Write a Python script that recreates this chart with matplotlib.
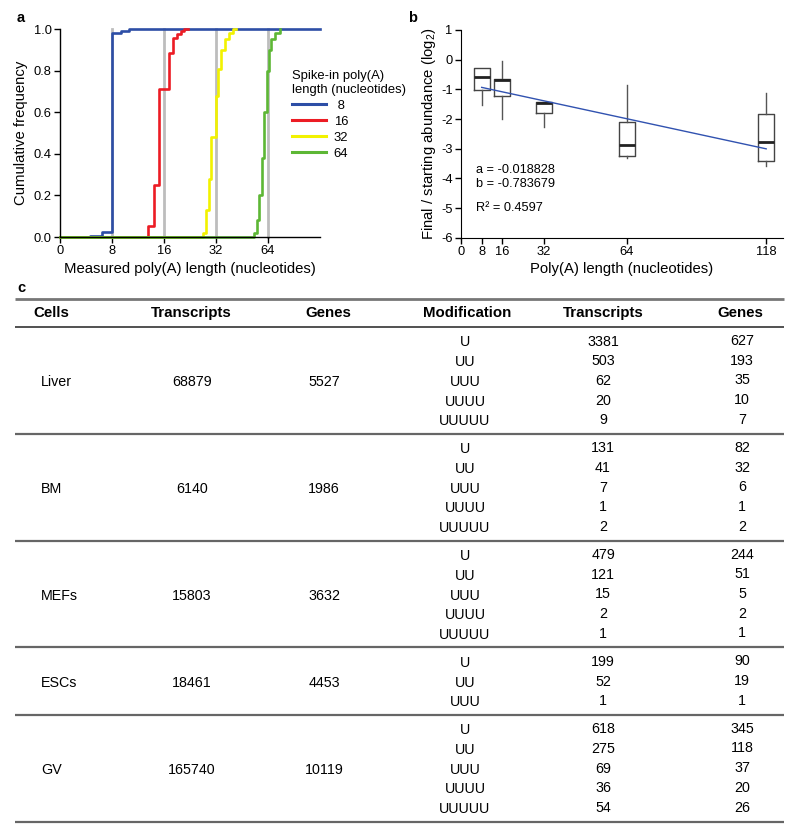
import matplotlib
matplotlib.use("Agg")
import matplotlib.pyplot as plt
import numpy as np

plt.rcParams['font.family'] = ['Liberation Sans', 'DejaVu Sans']
plt.rcParams['axes.unicode_minus'] = False
plt.rcParams['mathtext.fontset'] = 'custom'
plt.rcParams['mathtext.rm'] = 'Liberation Sans'
plt.rcParams['mathtext.it'] = 'Liberation Sans'
plt.rcParams['mathtext.bf'] = 'Liberation Sans:bold'

# ---------------- Panel a data (CDF of measured poly(A) length) ----------------
spike_labels = [' 8', '16', '32', '64']
spike_lengths = [8, 16, 32, 64]
spike_colors = ['#2d4ea6', '#ec1c24', '#f2f200', '#5db735']
cdf8_x = [4, 5, 6, 7, 8, 9, 10, 128]
cdf8_y = [0.0, 0.002, 0.005, 0.025, 0.98, 0.99, 1.0, 1.0]
cdf16_x = [4, 13, 14, 15, 17, 18, 19, 20, 21, 22]
cdf16_y = [0.0, 0.053, 0.25, 0.71, 0.885, 0.955, 0.975, 0.99, 1.0, 1.0]
cdf32_x = [4, 27, 28, 29, 30, 32, 33, 34, 36, 38, 40, 42]
cdf32_y = [0.0, 0.02, 0.13, 0.28, 0.48, 0.68, 0.81, 0.90, 0.95, 0.98, 1.0, 1.0]
cdf64_x = [4, 53, 55, 57, 59, 61, 63, 65, 67, 70, 75]
cdf64_y = [0.0, 0.02, 0.08, 0.2, 0.38, 0.6, 0.8, 0.9, 0.95, 0.98, 1.0]
xticks_a = [4, 8, 16, 32, 64]
xticklabels_a = ['0', '8', '16', '32', '64']

# ---------------- Panel b data (box plots) ----------------
polyA_len = [8, 16, 32, 64, 118]
box_q1 = [-1.02, -1.24, -1.81, -3.25, -3.42]
box_med = [-0.60, -0.70, -1.45, -2.87, -2.79]
box_q3 = [-0.29, -0.66, -1.44, -2.09, -1.83]
box_lo = [-1.54, -1.99, -2.28, -3.33, -3.57]
box_hi = [-0.29, -0.05, -1.44, -0.85, -1.11]
fit_x = [8, 118]
fit_y = [-0.934, -3.005]
fit_texts = ['a = -0.018828', 'b = -0.783679', 'R\u00b2 = 0.4597']

# ---------------- Panel c data (table) ----------------
header = ['Cells', 'Transcripts', 'Genes', 'Modification', 'Transcripts', 'Genes']
cells = ['Liver', 'BM', 'MEFs', 'ESCs', 'GV']
total_transcripts = [68879, 6140, 15803, 18461, 165740]
total_genes = [5527, 1986, 3632, 4453, 10119]
modifications = [['U', 'UU', 'UUU', 'UUUU', 'UUUUU'],
                 ['U', 'UU', 'UUU', 'UUUU', 'UUUUU'],
                 ['U', 'UU', 'UUU', 'UUUU', 'UUUUU'],
                 ['U', 'UU', 'UUU'],
                 ['U', 'UU', 'UUU', 'UUUU', 'UUUUU']]
mod_transcripts = [[3381, 503, 62, 20, 9],
                   [131, 41, 7, 1, 2],
                   [479, 121, 15, 2, 1],
                   [199, 52, 1],
                   [618, 275, 69, 36, 54]]
mod_genes = [[627, 193, 35, 10, 7],
             [82, 32, 6, 1, 2],
             [244, 51, 5, 2, 1],
             [90, 19, 1],
             [345, 118, 37, 20, 26]]

W, H = 800, 833
fig = plt.figure(figsize=(W / 100, H / 100), dpi=100)

TICK_FS = 9.3
LABEL_FS = 10.7

# ---------------- Panel a ----------------
axA = fig.add_axes([60 / W, 1 - 237 / H, 260 / W, 208 / H])
axA.set_xscale('log', base=2)
axA.set_xlim(4, 128)
axA.set_ylim(0, 1)
for L in spike_lengths:
    axA.plot([L, L], [0, 1], color='#bdbdbd', lw=2, zorder=1, clip_on=False)
handles = []
for xs, ys, c, lab in zip([cdf8_x, cdf16_x, cdf32_x, cdf64_x],
                          [cdf8_y, cdf16_y, cdf32_y, cdf64_y],
                          spike_colors, spike_labels):
    h, = axA.step(xs, ys, where='post', color=c, lw=1.9, zorder=2,
                  clip_on=False, label=lab)
    handles.append(h)
axA.set_xticks(xticks_a)
axA.set_xticklabels(xticklabels_a)
axA.xaxis.set_minor_locator(matplotlib.ticker.NullLocator())
axA.set_yticks(np.arange(0, 1.01, 0.2))
axA.yaxis.set_major_formatter(matplotlib.ticker.FormatStrFormatter('%.1f'))
for s in ['top', 'right']:
    axA.spines[s].set_visible(False)
for s in ['left', 'bottom']:
    axA.spines[s].set_linewidth(1.0)
axA.tick_params(direction='out', length=4, width=1, labelsize=TICK_FS, pad=2)
axA.set_xlabel('Measured poly(A) length (nucleotides)', fontsize=LABEL_FS, labelpad=3)
axA.set_ylabel('Cumulative frequency', fontsize=LABEL_FS, labelpad=4)
leg = axA.legend(handles=handles, labels=spike_labels,
                 title='Spike-in poly(A)\nlength (nucleotides)',
                 loc='upper left', bbox_to_anchor=(292 / W, 1 - 70 / H),
                 bbox_transform=fig.transFigure, frameon=False,
                 fontsize=9.4, title_fontsize=9.4, alignment='left',
                 handlelength=2.6, handletextpad=0.6, labelspacing=0.3,
                 borderpad=0, borderaxespad=0)
for lh in leg.get_lines():
    lh.set_linewidth(2.2)
fig.text(17 / W, 1 - 18 / H, 'a', fontsize=10.5, fontweight='bold', va='center', ha='left')

# ---------------- Panel b ----------------
axB = fig.add_axes([461 / W, 1 - 237.7 / H, 322 / W, 207.7 / H])
stats = []
for q1, med, q3, lo, hi in zip(box_q1, box_med, box_q3, box_lo, box_hi):
    stats.append(dict(q1=q1, med=med, q3=q3, whislo=lo, whishi=hi, fliers=[]))
axB.bxp(stats, positions=polyA_len, widths=6.2, showfliers=False, showcaps=False,
        manage_ticks=False,
        boxprops=dict(color='#444444', lw=1.0),
        whiskerprops=dict(color='#555555', lw=1.0),
        medianprops=dict(color='#222222', lw=2.0))
axB.plot(fit_x, fit_y, color='#3152b0', lw=1.0, zorder=5)
axB.set_xlim(0, 124.5)
axB.set_ylim(-6, 1)
axB.set_xticks([0] + polyA_len)
axB.set_xticklabels(['0'] + [str(v) for v in polyA_len])
axB.set_yticks(range(-6, 2))
for s in ['top', 'right']:
    axB.spines[s].set_visible(False)
axB.tick_params(direction='out', length=4, width=1, labelsize=TICK_FS, pad=2)
axB.set_xlabel('Poly(A) length (nucleotides)', fontsize=LABEL_FS, labelpad=3)
axB.set_ylabel('Final / starting abundance (log$_2$)', fontsize=LABEL_FS, labelpad=2)
for t, yv in zip(fit_texts, [-3.73, -4.18, -5.0]):
    axB.text(5.8, yv, t, fontsize=9.2, va='center', ha='left')
fig.text(408 / W, 1 - 18 / H, 'b', fontsize=10.5, fontweight='bold', va='center', ha='left')

# ---------------- Panel c (table) ----------------
axT = fig.add_axes([0, 0, 1, (H - 280) / H])
axT.set_xlim(0, W)
axT.set_ylim(H, 280)
axT.axis('off')
fig.text(17 / W, 1 - 288 / H, 'c', fontsize=10.5, fontweight='bold', va='center', ha='left')

tfam = ['Liberation Sans Narrow', 'Liberation Sans', 'DejaVu Sans']
TFS = 10.3
HFS = 10.8
x0, x1 = 15, 784
axT.plot([x0, x1], [299, 299], color='#777777', lw=2.0, solid_capstyle='butt')
axT.plot([x0, x1], [327, 327], color='#333333', lw=1.2, solid_capstyle='butt')

hx = [33, 191, 328, 467, 603, 740]
hha = ['left', 'center', 'center', 'center', 'center', 'center']
for txt, xx, ha in zip(header, hx, hha):
    axT.text(xx, 313, txt, fontsize=HFS, fontweight='bold', ha=ha, va='center',
             family=tfam)

dx = [41, 192, 324, 465, 603, 742]
pitch = 19.7
y_line = 327
for i, cell in enumerate(cells):
    n = len(modifications[i])
    first = y_line + 15.5
    rows = [first + k * pitch for k in range(n)]
    mid = (rows[0] + rows[-1]) / 2
    axT.text(dx[0], mid, cell, fontsize=TFS, ha='left', va='center', family=tfam)
    axT.text(dx[1], mid, str(total_transcripts[i]), fontsize=TFS, ha='center',
             va='center', family=tfam)
    axT.text(dx[2], mid, str(total_genes[i]), fontsize=TFS, ha='center',
             va='center', family=tfam)
    for k, yy in enumerate(rows):
        axT.text(dx[3], yy, modifications[i][k], fontsize=TFS, ha='center',
                 va='center', family=tfam)
        axT.text(dx[4], yy - 1, str(mod_transcripts[i][k]), fontsize=TFS,
                 ha='center', va='center', family=tfam)
        axT.text(dx[5], yy - 1.5, str(mod_genes[i][k]), fontsize=TFS,
                 ha='center', va='center', family=tfam)
    y_line = rows[-1] + 12.5
    axT.plot([x0, x1], [y_line, y_line], color='#666666', lw=1.6,
             solid_capstyle='butt')

fig.savefig('out.png', dpi=100)
